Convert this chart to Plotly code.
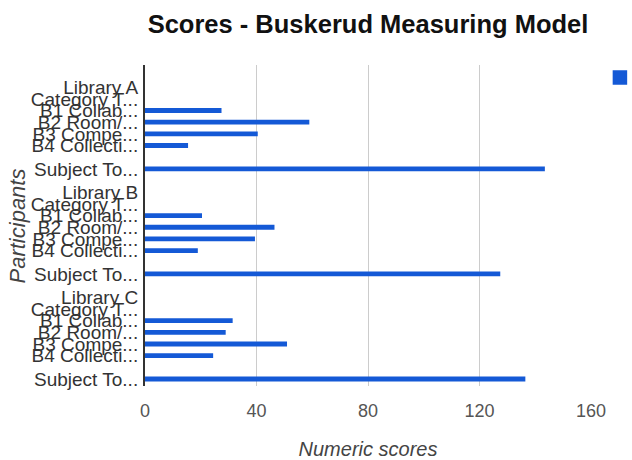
import plotly.graph_objects as go

# Row labels (as displayed, truncated) and numeric scores; None = no bar
participants = [
    "Library A", "Category T...", "B1 Collab...", "B2 Room/...", "B3 Compe...", "B4 Collecti...", "", "Subject To...", "",
    "Library B", "Category T...", "B1 Collab...", "B2 Room/...", "B3 Compe...", "B4 Collecti...", "", "Subject To...", "",
    "Library C", "Category T...", "B1 Collab...", "B2 Room/...", "B3 Compe...", "B4 Collecti...", "", "Subject To...",
]
scores = [
    None, None, 27, 58.5, 40, 15, None, 143, None,
    None, None, 20, 46, 39, 18.5, None, 127, None,
    None, None, 31, 28.5, 50.5, 24, None, 136,
]
x_ticks = [0, 40, 80, 120, 160]

rows = list(range(len(participants)))
tick_rows = [r for r, lab in zip(rows, participants) if lab]
tick_text = [lab for lab in participants if lab]

FONT = "Arial, Liberation Sans, sans-serif"
BLUE = "#1459d6"

fig = go.Figure()
fig.add_trace(go.Bar(
    x=scores, y=rows, orientation="h", width=0.2,
    marker=dict(color=BLUE, line=dict(color=BLUE, width=2.5)),
    name=" ", showlegend=True,
))

fig.update_layout(
    width=632, height=460,
    margin=dict(l=145, r=41, t=65, b=74, autoexpand=False),
    paper_bgcolor="white", plot_bgcolor="white",
    font=dict(family=FONT),
    title=dict(text="<b>Scores - Buskerud Measuring Model</b>",
               font=dict(size=25.5, color="#111", family=FONT),
               x=0.5, xref="paper", xanchor="center",
               y=1 - 24 / 460, yref="container", yanchor="middle"),
    legend=dict(x=1.02, xanchor="left", y=1.006, yanchor="top",
                font=dict(size=12), bgcolor="rgba(0,0,0,0)"),
    bargap=0.5,
    annotations=[dict(text="<i>Participants</i>", xref="paper", yref="paper",
                      x=-0.2848, y=0.5, xanchor="center", yanchor="middle",
                      textangle=-90, showarrow=False,
                      font=dict(size=22, color="#444", family=FONT))],
)
fig.update_xaxes(
    range=[0, 160], tickvals=x_ticks, ticktext=[str(t) for t in x_ticks],
    showgrid=True, gridcolor="#cccccc", gridwidth=1, zeroline=False,
    showline=False, tickfont=dict(size=18, color="#555", family=FONT),
    ticklabelstandoff=12, automargin=False,
    title=dict(text="<i>Numeric scores</i>", font=dict(size=20, color="#444", family=FONT), standoff=25),
)
fig.update_yaxes(
    range=[25.6, -1.9], tickvals=tick_rows, ticktext=tick_text,
    showgrid=False, zeroline=False, showline=True, linecolor="#333", linewidth=2,
    tickfont=dict(size=19, color="#333", family=FONT), ticklabelstandoff=1, automargin=False,
)

fig.write_html("out.html", post_script="document.body.style.margin='0';",
               config={"displayModeBar": False})
